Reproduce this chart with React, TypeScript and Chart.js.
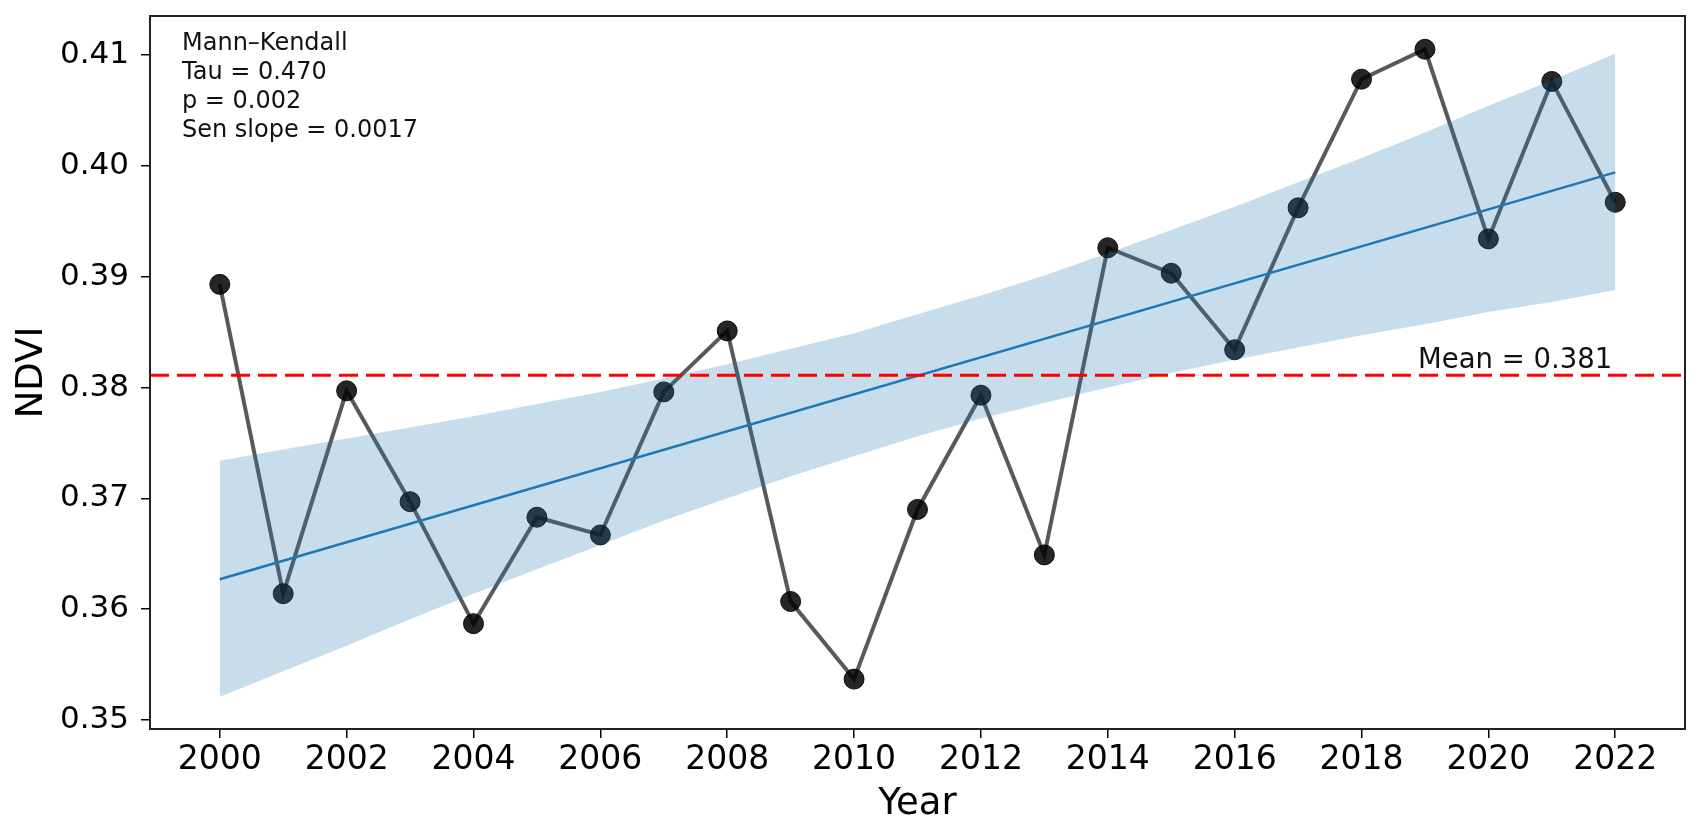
import { useEffect, useRef } from "react"
import { Chart, registerables } from "chart.js"

Chart.register(...registerables)

const FONT = "'DejaVu Sans', 'Liberation Sans', sans-serif"

// Annual mean NDVI
const years = [
  2000, 2001, 2002, 2003, 2004, 2005, 2006, 2007, 2008, 2009, 2010, 2011,
  2012, 2013, 2014, 2015, 2016, 2017, 2018, 2019, 2020, 2021, 2022,
]
const ndvi = [
  0.3893, 0.3614, 0.3797, 0.3697, 0.3587, 0.3683, 0.3667, 0.3796, 0.3851,
  0.3607, 0.3537, 0.369, 0.3793, 0.3649, 0.3926, 0.3903, 0.3834, 0.3962,
  0.4078, 0.4105, 0.3934, 0.4076, 0.3967,
]

// Confidence band around the trend
const bandUpper = [
  0.3734, 0.3744, 0.3754, 0.3764, 0.3774, 0.3785, 0.3796, 0.3808, 0.3821,
  0.3835, 0.3849, 0.3866, 0.3883, 0.3901, 0.3921, 0.3942, 0.3963, 0.3985,
  0.4007, 0.403, 0.4054, 0.4077, 0.4101,
]
const bandLower = [
  0.3521, 0.3544, 0.3567, 0.3591, 0.3614, 0.3636, 0.3658, 0.368, 0.37,
  0.372, 0.3738, 0.3756, 0.3772, 0.3786, 0.38, 0.3813, 0.3825, 0.3836,
  0.3847, 0.3857, 0.3868, 0.3877, 0.3888,
]

// Sen trend line end points
const trendYears = [2000, 2022]
const trendValues = [0.3627, 0.3994]

const meanValue = 0.3811

const xTickYears = [2000, 2002, 2004, 2006, 2008, 2010, 2012, 2014, 2016, 2018, 2020, 2022]
const yTickValues = [0.35, 0.36, 0.37, 0.38, 0.39, 0.4, 0.41]

const statsLines = ["Mann–Kendall", "Tau = 0.470", "p = 0.002", "Sen slope = 0.0017"]

const overlayPlugin = {
  id: "overlay",
  afterDatasetsDraw(chart: any) {
    const { ctx, chartArea, scales } = chart
    const yMean = scales.y.getPixelForValue(meanValue)

    ctx.save()
    // mean line
    ctx.strokeStyle = "#ff0000"
    ctx.lineWidth = 3
    ctx.setLineDash([19, 8])
    ctx.beginPath()
    ctx.moveTo(chartArea.left, yMean)
    ctx.lineTo(chartArea.right, yMean)
    ctx.stroke()
    ctx.setLineDash([])

    ctx.fillStyle = "#111"
    ctx.font = `27.5px ${FONT}`
    ctx.textAlign = "right"
    ctx.textBaseline = "alphabetic"
    ctx.fillText(`Mean = ${meanValue.toFixed(3)}`, scales.x.getPixelForValue(2022) - 3, yMean - 7)

    // Mann-Kendall text box
    ctx.font = `24px ${FONT}`
    ctx.textAlign = "left"
    statsLines.forEach((line, i) => {
      ctx.fillText(line, chartArea.left + 32, chartArea.top + 34 + i * 29)
    })
    ctx.restore()
  },
  afterDraw(chart: any) {
    const { ctx, chartArea } = chart
    ctx.save()
    ctx.strokeStyle = "#222"
    ctx.lineWidth = 2
    ctx.strokeRect(chartArea.left, chartArea.top, chartArea.right - chartArea.left, chartArea.bottom - chartArea.top)
    ctx.restore()
  },
}

function NdviTrendChart() {
  const chartRef = useRef<HTMLCanvasElement>(null)
  const chartInstance = useRef<Chart | null>(null)

  useEffect(() => {
    if (!chartRef.current) return
    if (chartInstance.current) chartInstance.current.destroy()

    const ctx = chartRef.current.getContext("2d")
    if (!ctx) return

    Chart.defaults.font.family = FONT

    chartInstance.current = new Chart(ctx, {
      type: "line",
      data: {
        datasets: [
          {
            label: "NDVI",
            data: years.map((x, i) => ({ x, y: ndvi[i] })),
            borderColor: "rgba(0, 0, 0, 0.65)",
            borderWidth: 4,
            pointRadius: 10,
            pointBackgroundColor: "rgba(0, 0, 0, 0.85)",
            pointBorderColor: "rgba(0, 0, 0, 0.9)",
            pointBorderWidth: 1,
            fill: false,
            order: 3,
          },
          {
            label: "lower",
            data: years.map((x, i) => ({ x, y: bandLower[i] })),
            borderWidth: 0,
            borderColor: "transparent",
            pointRadius: 0,
            fill: false,
            order: 2,
          },
          {
            label: "upper",
            data: years.map((x, i) => ({ x, y: bandUpper[i] })),
            borderWidth: 0,
            borderColor: "transparent",
            backgroundColor: "rgba(31, 119, 180, 0.25)",
            pointRadius: 0,
            fill: "-1",
            order: 1,
          },
          {
            label: "trend",
            data: trendYears.map((x, i) => ({ x, y: trendValues[i] })),
            borderColor: "#1f77b4",
            borderWidth: 2.5,
            pointRadius: 0,
            fill: false,
            order: 0,
          },
        ],
      },
      options: {
        responsive: true,
        maintainAspectRatio: false,
        animation: false,
        events: [],
        layout: { padding: { top: 16, right: 14, left: 0, bottom: 0 } },
        plugins: {
          legend: { display: false },
          tooltip: { enabled: false },
        },
        scales: {
          x: {
            type: "linear",
            min: 1998.9,
            max: 2023.1,
            afterBuildTicks: (scale: any) => {
              scale.ticks = xTickYears.map((v) => ({ value: v }))
            },
            afterFit: (scale: any) => {
              scale.height = 102
              scale.paddingLeft = 0
              scale.paddingRight = 0
            },
            ticks: {
              color: "#000",
              font: { size: 33 },
              padding: 3,
              maxRotation: 0,
              callback: (v: any) => String(v),
            },
            grid: {
              display: true,
              drawOnChartArea: false,
              drawTicks: true,
              tickLength: 9,
              color: "#000",
              lineWidth: 1.5,
            },
            border: { display: true, color: "#222", width: 2 },
            title: {
              display: true,
              text: "Year",
              color: "#000",
              font: { size: 37 },
              padding: { top: 0, bottom: 4 },
            },
          },
          y: {
            type: "linear",
            min: 0.3492,
            max: 0.4135,
            afterBuildTicks: (scale: any) => {
              scale.ticks = yTickValues.map((v) => ({ value: v }))
            },
            afterFit: (scale: any) => {
              scale.width = 150
              scale.paddingTop = 0
              scale.paddingBottom = 0
            },
            ticks: {
              color: "#000",
              font: { size: 31 },
              padding: 12,
              callback: (v: any) => Number(v).toFixed(2),
            },
            grid: {
              display: true,
              drawOnChartArea: false,
              drawTicks: true,
              tickLength: 9,
              color: "#000",
              lineWidth: 1.5,
            },
            border: { display: true, color: "#222", width: 2 },
            title: {
              display: true,
              text: "NDVI",
              color: "#000",
              font: { size: 37 },
              padding: { top: 10, bottom: 0 },
            },
          },
        },
      },
      plugins: [overlayPlugin],
    })

    return () => {
      if (chartInstance.current) {
        chartInstance.current.destroy()
        chartInstance.current = null
      }
    }
  }, [])

  return (
    <div style={{ position: "fixed", left: 0, top: 0, width: 1699, height: 831, background: "#fff" }}>
      <canvas ref={chartRef} />
    </div>
  )
}

export default function App() {
  return <NdviTrendChart />
}
